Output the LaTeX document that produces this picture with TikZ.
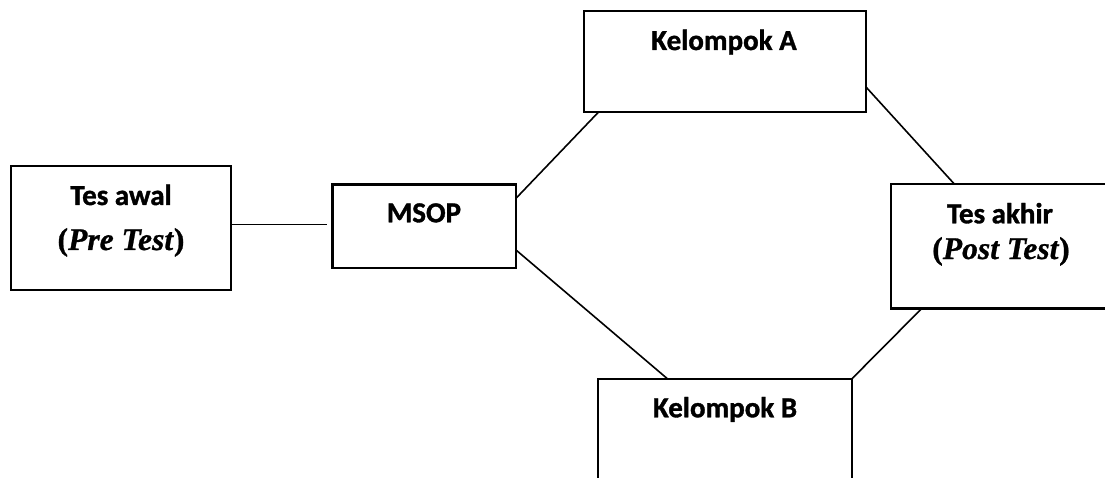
\documentclass[tikz,border=0pt]{standalone}
\usepackage{fontspec}
\setmainfont{Carlito}[BoldFeatures={FakeBold=1.2}]
\newfontfamily\tnr{Liberation Serif}[BoldFeatures={FakeBold=0.8},BoldItalicFeatures={FakeBold=0.8}]
\begin{document}
\begin{tikzpicture}[x=1pt,y=-1pt,
  box/.style={draw=black,line width=2.2pt,fill=white,inner sep=0pt,outer sep=0pt},
  lbl/.style={anchor=base,inner sep=0pt,font=\fontsize{29}{35}\selectfont\bfseries},
  tlbl/.style={anchor=base,inner sep=0pt,font=\tnr\fontsize{31.6}{38}\selectfont\bfseries},
  conn/.style={draw=black,line width=1.6pt}]
\useasboundingbox (0,0) rectangle (1105,478);
\clip (0,0) rectangle (1105,478);
\fill[white] (0,0) rectangle (1105,478);
% boxes
\node[box,minimum width=220.3pt,minimum height=124pt] (awal) at (120.85,228) {};
\node[box,minimum width=183.5pt,minimum height=83.8pt] (msop) at (424.25,226.4) {};
\node[box,minimum width=281.7pt,minimum height=101.3pt] (kela) at (724.85,61.65) {};
\node[box,minimum width=219pt,minimum height=124.5pt] (akhir) at (1000.5,246.25) {};
\node[box,minimum width=253.4pt,minimum height=121pt] (kelb) at (725,439.5) {};
% texts
\node[lbl] (t1) at (121,205) {Tes awal};
\node[tlbl] (t2) at (121,250) {(\textit{Pre Test})};
\node[lbl] (t3) at (424,222.3) {MSOP};
\node[lbl] (t4) at (724,50) {Kelompok A};
\node[lbl] (t5) at (1000,223.3) {Tes akhir};
\node[tlbl] (t6) at (1001,259) {(\textit{Post Test})};
\node[lbl] (t7) at (725,417.3) {Kelompok B};
% connectors
\draw[conn,shorten >=5.8pt] ([yshift=3.5pt]awal.east) -- ([yshift=1.9pt]msop.west);
\draw[conn] ([yshift=-13.8pt]msop.north east) -- ([xshift=14.3pt]kela.south west);
\draw[conn] ([yshift=18.3pt]msop.south east) -- ([xshift=69.4pt]kelb.north west);
\draw[conn] ([yshift=25.6pt]kela.south east) -- ([xshift=63.3pt]akhir.north west);
\draw[conn] ([xshift=30.7pt]akhir.south west) -- (kelb.north east);
\end{tikzpicture}
\end{document}
